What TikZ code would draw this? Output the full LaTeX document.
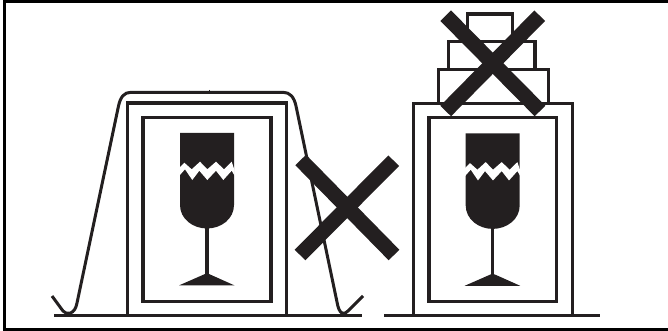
\documentclass[tikz,border=0pt]{standalone}
\definecolor{ink}{HTML}{231F20}
\tikzset{
  ln/.style={draw=ink,line width=3.4pt,line join=miter},
  wrapline/.style={draw=ink,line width=3pt,line join=round},
  crossarm/.style={draw=ink,line width=15pt},
  framebar/.style={fill=black},
  glass/.pic={
    % bowl
    \fill[ink] (180,133) -- (234,133) -- (234,205)
      .. controls (234,219) and (221,228.5) .. (207,228.5)
      .. controls (193,228.5) and (180,219) .. (180,205) -- cycle;
    % crack
    \fill[white] (179.5,167.5) -- (184.3,162.7) -- (191.7,169.3) -- (200,161.7) -- (207.3,169.3)
      -- (216,161.7) -- (224,169.3) -- (231.7,161.7) -- (234.5,170)
      -- (234.5,175.5) -- (231.7,170.7) -- (223.3,180) -- (216,170.7) -- (207.3,180)
      -- (199.3,170.7) -- (192.3,180) -- (185,169.3) -- (179.5,175.5) -- cycle;
    % stem
    \draw[ink,line width=3.3pt] (207,228) -- (207,276);
    % foot
    \fill[ink] (179,285.4) -- (205,274) -- (209,274) -- (234.5,285.4) -- cycle;
  }
}
\begin{document}
\begin{tikzpicture}[x=1pt,y=-1pt]
\useasboundingbox (0,0) rectangle (668,331);
% frame
\fill[framebar] (2.5,0) rectangle (668,3.2);
\fill[framebar] (3,0) rectangle (6,331);
\fill[framebar] (3,327.8) rectangle (668,331);
% left package
\draw[ln] (127.5,315.7) -- (127.5,103) -- (286.5,103) -- (286.5,315.7);
\draw[ln] (143,117.3) rectangle (271,301.5);
\pic at (0,0) {glass};
% strap
\draw[wrapline] (52,296) -- (63,311)
  .. controls (66.5,315.5) and (75,314.5) .. (77,303)
  -- (118.5,106)
  .. controls (120.5,97) and (124,92.3) .. (131,92.3)
  -- (283,92.3)
  .. controls (290,92.3) and (294,97) .. (296,106)
  -- (337,302)
  .. controls (339,314.5) and (344,315.5) .. (348,311)
  -- (363,296);
\draw[ink,line width=1pt] (209.5,90) -- (209.5,94.5);
% grounds
\draw[ln] (54,315.7) -- (362,315.7);
\draw[ln] (384,315.7) -- (600.3,315.7);
% left cross
\draw[crossarm] (300.7,160) -- (394,255);
\draw[crossarm] (393.7,160.7) -- (300,255);
% right package
\draw[ln] (413.5,315.7) -- (413.5,103.3) -- (572.7,103.3) -- (572.7,315.7);
\draw[ln] (429,117.3) rectangle (556.7,301.7);
\pic at (285.7,0.4) {glass};
% stacked boxes
\draw[ln] (438.7,103.3) -- (438.7,69.3) -- (548.3,69.3) -- (548.3,103.3);
\draw[ln] (448.3,69.3) -- (448.3,41.7) -- (535,41.7) -- (535,69.3);
\draw[ln] (467.3,41.7) -- (467.3,14) -- (512.3,14) -- (512.3,41.7);
% right cross
\draw[crossarm] (445.7,15.7) -- (540,111);
\draw[crossarm] (539.7,15.7) -- (445.7,111);
\end{tikzpicture}
\end{document}
